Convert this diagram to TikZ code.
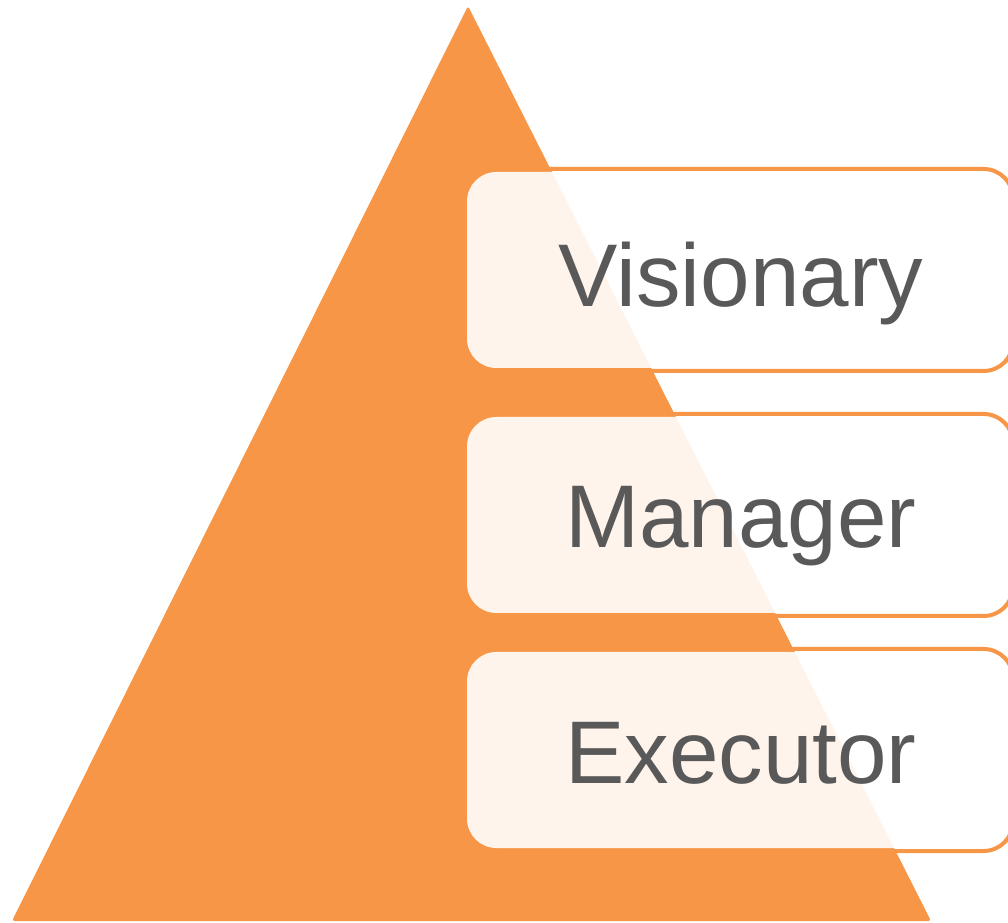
\documentclass[tikz,border=0pt]{standalone}
\usepackage{fontspec}
\setmainfont{Liberation Sans}
\definecolor{pyramid}{HTML}{F79646}
\definecolor{labelgray}{HTML}{595959}

\tikzset{
  level frame/.style={draw=pyramid, line width=3pt, rounded corners=22pt,
    minimum width=412.5pt, minimum height=151.5pt, inner sep=0pt},
  level box/.style={fill=white, fill opacity=0.9, rounded corners=22pt,
    minimum width=403.5pt, minimum height=147pt, inner sep=0pt},
  level label/.style={anchor=base, text=labelgray, inner sep=0pt,
    font=\fontsize{66.75}{80}\selectfont},
}

\begin{document}
\begin{tikzpicture}[x=0.75pt, y=-0.75pt]
  \useasboundingbox (0,0) rectangle (1008,923);
  \clip (0,0) rectangle (1008,923);
  % the pyramid
  \fill[pyramid, rounded corners=2pt] (468,6) -- (931,921) -- (12,921) -- cycle;
  % one framed box per level
  \foreach \name/\y/\base in {Visionary/270/307, Manager/515/548, Executor/750/783} {
    \node[level frame] (\name-frame) at (738,\y) {};
    \node[level box] (\name-box) at (736,\y) {};
    \node[level label] (\name-label) at (741,\base) {\name};
  }
\end{tikzpicture}
\end{document}
